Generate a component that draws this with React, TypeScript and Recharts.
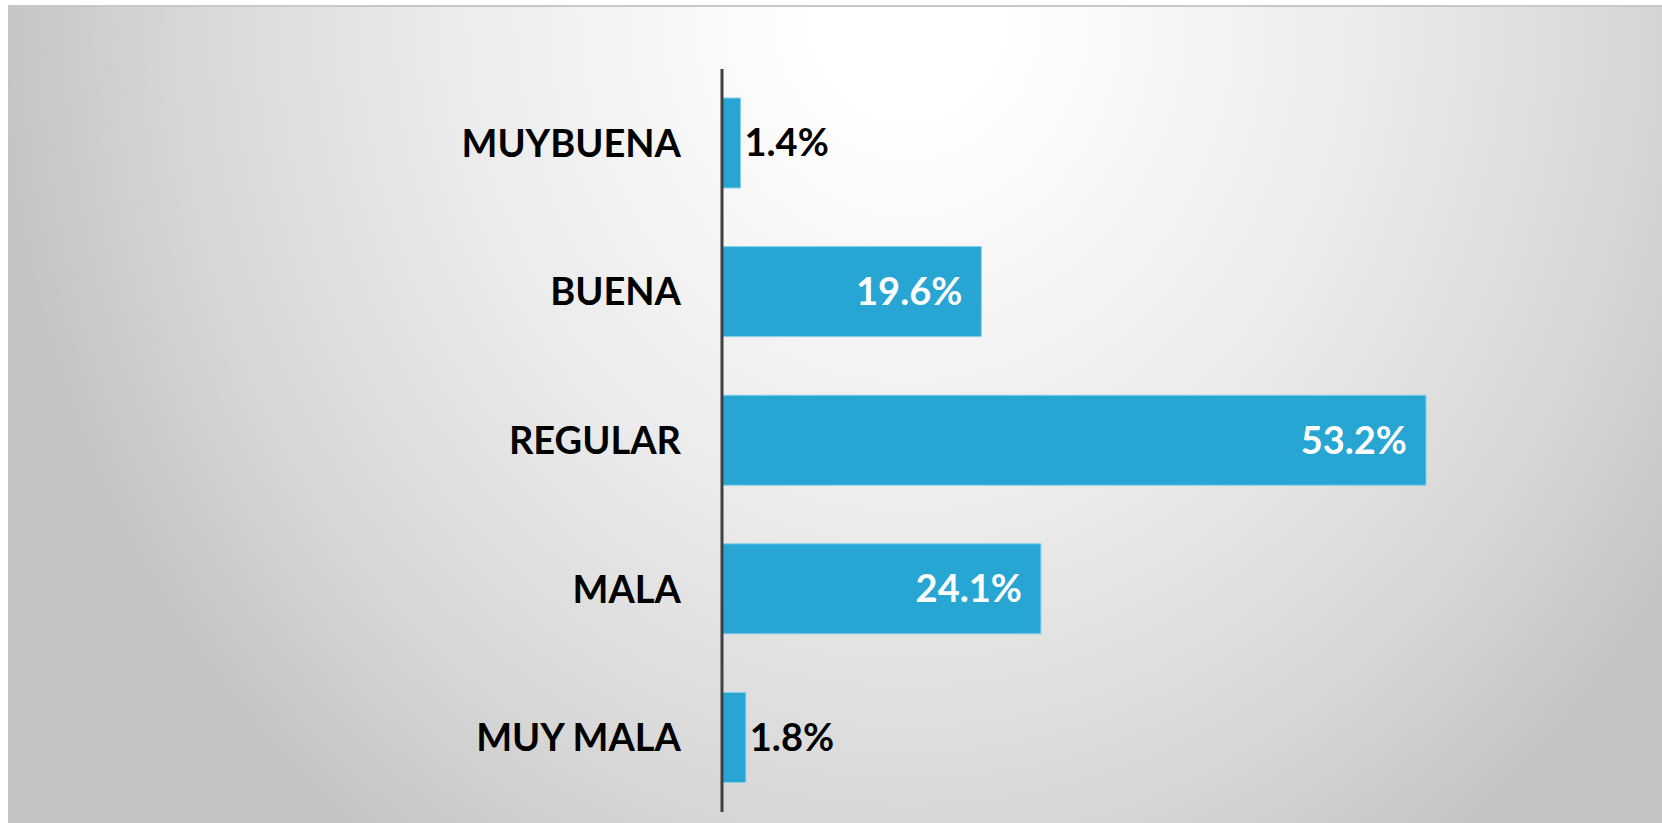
import { BarChart, Bar, XAxis, YAxis, LabelList } from 'recharts';

const categories = ['MUYBUENA', 'BUENA', 'REGULAR', 'MALA', 'MUY MALA'];
const percentages = [1.4, 19.6, 53.2, 24.1, 1.8];

const data = categories.map((name, i) => ({ name, value: percentages[i] }));

const FONT = 'Lato, "Noto Sans", sans-serif';

const ValueLabel = (props: any) => {
  const { x, y, width, height, value } = props;
  const cy = y + height / 2;
  if (value < 5) {
    return (
      <text
        x={x + width + 4}
        y={cy}
        dy="0.35em"
        fill="#000"
        fontFamily={FONT}
        fontWeight={700}
        fontSize={38}
        textAnchor="start"
      >
        {value.toFixed(1)}%
      </text>
    );
  }
  return (
    <text
      x={x + width - 19}
      y={cy}
      dy="0.35em"
      fill="#fff"
      fontFamily={FONT}
      fontWeight={700}
      fontSize={38}
      textAnchor="end"
    >
      {value.toFixed(1)}%
    </text>
  );
};

const App = () => {
  return (
    <div style={{ position: 'absolute', left: 0, top: 0, width: 1662, height: 823, background: '#fff', overflow: 'hidden' }}>
      <div
        style={{
          position: 'absolute',
          left: 8,
          top: 5,
          right: 0,
          bottom: 0,
          borderTop: '2px solid #c8c8c8',
          background:
            'radial-gradient(ellipse 920px 1050px at 900px 0px, #ffffff 0%, #ffffff 10%, #ebebeb 50%, #d6d6d6 80%, #c3c3c3 100%)',
        }}
      />
      <div style={{ position: 'absolute', left: 0, top: 0 }}>
        <BarChart
          width={1662}
          height={823}
          data={data}
          layout="vertical"
          margin={{ top: 69, right: 146, bottom: 11, left: 0 }}
        >
          <XAxis type="number" domain={[0, 60]} hide />
          <YAxis
            type="category"
            dataKey="name"
            width={722}
            tickLine={false}
            tickSize={0}
            tickMargin={41}
            axisLine={{ stroke: '#404040', strokeWidth: 3 }}
            tick={{ fill: '#000', fontFamily: FONT, fontWeight: 700, fontSize: 38 }}
          />
          <Bar
            dataKey="value"
            fill="#27a6d3"
            stroke="#86cfea"
            strokeWidth={1}
            barSize={90}
            isAnimationActive={false}
          >
            <LabelList dataKey="value" content={ValueLabel} />
          </Bar>
        </BarChart>
      </div>
    </div>
  );
};

export default App;
